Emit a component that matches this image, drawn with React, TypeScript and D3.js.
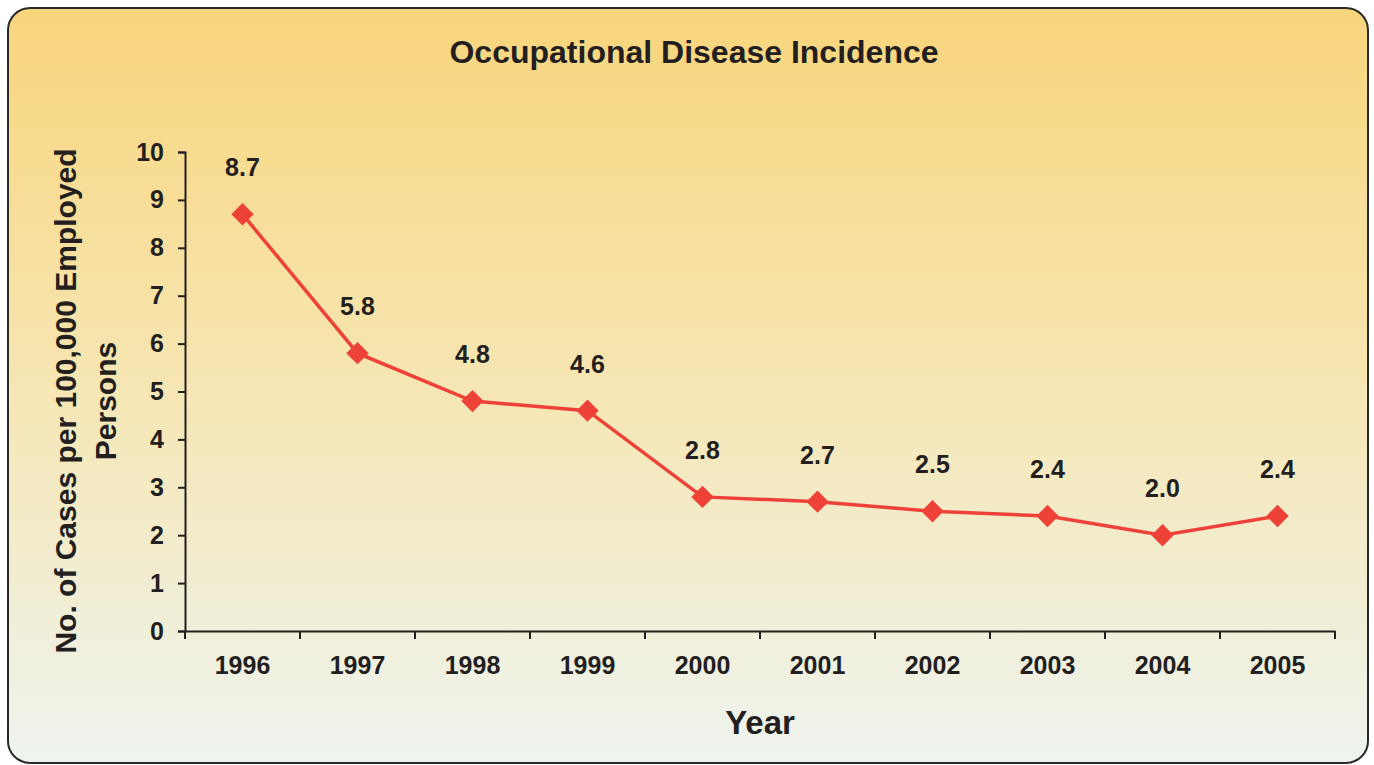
import { useEffect, useRef } from 'react';
import * as d3 from 'd3';

const YEARS = ['1996', '1997', '1998', '1999', '2000', '2001', '2002', '2003', '2004', '2005'];
const RATES = [8.7, 5.8, 4.8, 4.6, 2.8, 2.7, 2.5, 2.4, 2.0, 2.4];
const Y_TICKS = [0, 1, 2, 3, 4, 5, 6, 7, 8, 9, 10];

const W = 1374;
const H = 765;
const FONT = '"Liberation Sans", Arial, sans-serif';
const RED = '#ee4238';
const INK = '#231f20';

export default function App() {
    const svgRef = useRef<SVGSVGElement>(null);

    useEffect(() => {
        if (!svgRef.current) return;
        const svg = d3.select(svgRef.current);
        svg.selectAll('*').remove();

        const grad = svg.append('defs').append('linearGradient')
            .attr('id', 'bg').attr('x1', 0).attr('y1', 0).attr('x2', 0).attr('y2', 1);
        grad.append('stop').attr('offset', '0%').attr('stop-color', '#f9d57c');
        grad.append('stop').attr('offset', '50%').attr('stop-color', '#f6e6b3');
        grad.append('stop').attr('offset', '100%').attr('stop-color', '#eef4ef');

        svg.append('rect')
            .attr('x', 8).attr('y', 8).attr('width', 1360).attr('height', 755)
            .attr('rx', 22).attr('ry', 22)
            .attr('fill', 'url(#bg)').attr('stroke', '#2a2a2a').attr('stroke-width', 2);

        const left = 185, right = 1335, top = 152, bottom = 631;

        const x = d3.scaleBand<string>().domain(YEARS).range([left, right]);
        const y = d3.scaleLinear().domain([0, 10]).range([bottom, top]);

        // title
        svg.append('text')
            .attr('x', 694).attr('y', 63).attr('text-anchor', 'middle')
            .attr('font-family', FONT).attr('font-weight', 700).attr('font-size', 32)
            .attr('fill', INK).text('Occupational Disease Incidence');

        // y axis
        const yAxis = svg.append('g').attr('transform', `translate(${left},0)`)
            .call(d3.axisLeft(y).tickValues(Y_TICKS).tickSize(7).tickPadding(14).tickFormat(d3.format('d')));
        yAxis.select('.domain').attr('stroke', INK).attr('stroke-width', 2);
        yAxis.selectAll('.tick line').attr('stroke', INK).attr('stroke-width', 2);
        yAxis.selectAll('.tick text')
            .attr('font-family', FONT).attr('font-weight', 700).attr('font-size', 25)
            .attr('fill', INK);

        // x axis
        const xAxis = svg.append('g').attr('transform', `translate(0,${bottom})`)
            .call(d3.axisBottom(x).tickSize(0).tickPadding(25));
        xAxis.select('.domain').attr('stroke', INK).attr('stroke-width', 2);
        xAxis.selectAll('.tick text')
            .attr('font-family', FONT).attr('font-weight', 700).attr('font-size', 25)
            .attr('fill', INK);
        const bounds = YEARS.map(d => x(d)!).concat([right]);
        xAxis.selectAll('.bound').data(bounds).join('line')
            .attr('x1', d => d).attr('x2', d => d).attr('y1', 0).attr('y2', 8)
            .attr('stroke', INK).attr('stroke-width', 2);

        // axis titles
        const yl = svg.append('text')
            .attr('transform', 'translate(76,401) rotate(-90)').attr('text-anchor', 'middle')
            .attr('font-family', FONT).attr('font-weight', 700).attr('font-size', 30)
            .attr('fill', INK);
        yl.append('tspan').attr('x', 0).attr('y', 0).text('No. of Cases per 100,000 Employed');
        yl.append('tspan').attr('x', 0).attr('y', 40).text('Persons');

        svg.append('text')
            .attr('x', (left + right) / 2).attr('y', 734).attr('text-anchor', 'middle')
            .attr('font-family', FONT).attr('font-weight', 700).attr('font-size', 33)
            .attr('fill', INK).text('Year');

        // line
        const cx = (d: string) => x(d)! + x.bandwidth() / 2;
        const line = d3.line<number>().x((_, i) => cx(YEARS[i])).y(d => y(d));
        svg.append('path').datum(RATES)
            .attr('d', line).attr('fill', 'none')
            .attr('stroke', RED).attr('stroke-width', 3.5);

        const diamond = d3.symbol().type(d3.symbolSquare).size(250);
        svg.selectAll('.pt').data(RATES).join('path')
            .attr('d', diamond)
            .attr('transform', (d, i) => `translate(${cx(YEARS[i])},${y(d)}) rotate(45)`)
            .attr('fill', RED);

        svg.selectAll('.lbl').data(RATES).join('text')
            .attr('x', (_, i) => cx(YEARS[i])).attr('y', d => y(d) - 38)
            .attr('text-anchor', 'middle')
            .attr('font-family', FONT).attr('font-weight', 700).attr('font-size', 25)
            .attr('fill', INK).text(d => d.toFixed(1));
    }, []);

    return (
        <div style={{ position: 'absolute', left: 0, top: 0 }}>
            <svg ref={svgRef} width={W} height={H} style={{ display: 'block' }} />
        </div>
    );
}
